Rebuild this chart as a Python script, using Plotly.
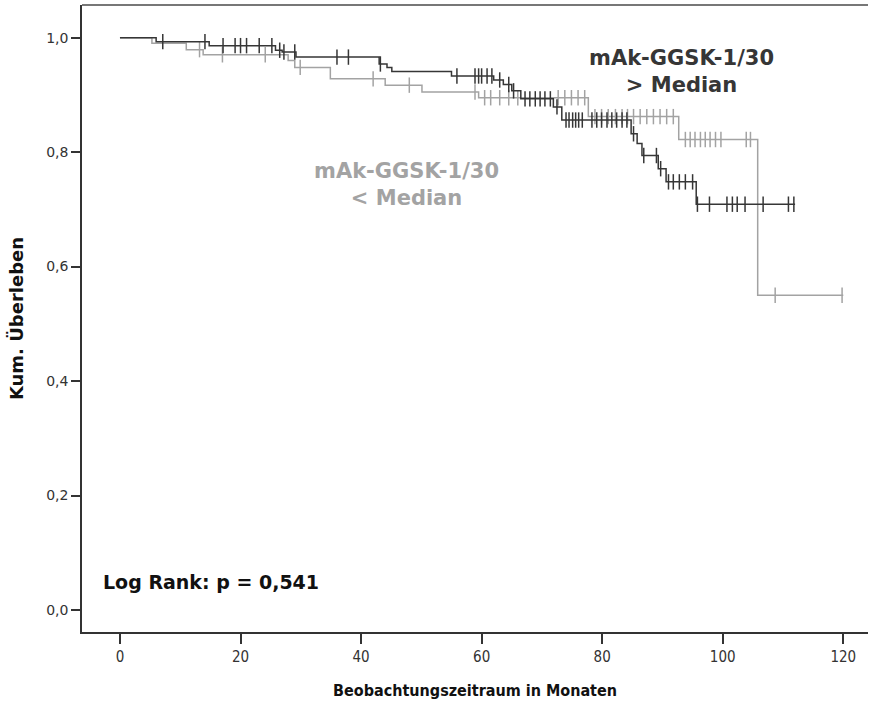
import numpy as np
import plotly.graph_objects as go

# Kaplan-Meier step data: event times (months) and survival after each event
high_event_t = [0, 6.0, 14.8, 25.8, 26.9, 29.2, 43.0, 44.3, 45.1, 55.0, 62.0, 63.6, 65.0,
                66.5, 71.9, 73.3, 84.8, 85.8, 86.6, 89.3, 90.6, 95.6]
high_event_s = [1.0, 0.993, 0.986, 0.978, 0.975, 0.966, 0.954, 0.948, 0.941, 0.933, 0.926,
                0.918, 0.907, 0.893, 0.879, 0.856, 0.832, 0.815, 0.794, 0.771, 0.748, 0.709]
high_censor_t = [7.1, 14.1, 17.1, 19.1, 20.0, 21.0, 23.1, 25.2, 26.5, 27.2, 29.0, 36.0, 37.9,
                 43.2, 55.9, 58.9, 59.5, 60.0, 60.9, 61.7, 63.0, 64.5, 65.3, 67.2, 68.0, 68.9,
                 69.7, 70.5, 71.4, 72.5, 74.0, 74.5, 75.1, 75.6, 76.1, 76.7, 78.3, 79.1, 79.9,
                 80.8, 81.6, 82.4, 83.3, 84.1, 85.2, 86.9, 89.0, 89.7, 91.0, 91.8, 92.8, 93.8,
                 95.0, 95.8, 97.8, 100.7, 101.6, 102.4, 103.7, 106.7, 110.9, 111.8]
high_end = 112.0

low_event_t = [0, 5.3, 11.0, 13.8, 27.9, 29.0, 34.9, 44.0, 50.1, 59.5, 77.7, 92.7, 105.8]
low_event_s = [1.0, 0.990, 0.979, 0.970, 0.960, 0.948, 0.928, 0.917, 0.905, 0.895, 0.862,
               0.822, 0.550]
low_censor_t = [13.2, 17.0, 24.1, 29.9, 42.0, 48.0, 58.9, 60.5, 61.5, 63.0, 64.5, 66.0, 72.7,
                73.8, 74.9, 76.0, 77.1, 78.8, 79.9, 81.0, 82.2, 83.3, 84.2, 85.2, 86.3, 87.4,
                88.5, 89.6, 90.7, 91.8, 93.8, 94.6, 95.4, 96.3, 97.1, 97.9, 98.8, 99.7, 103.9,
                104.6, 108.7, 119.8]
low_end = 120.0

x_ticks = [0, 20, 40, 60, 80, 100, 120]
y_ticks = [0.0, 0.2, 0.4, 0.6, 0.8, 1.0]

DARK = "#363636"
GREY = "#a3a3a3"


def step_xy(ts, ss, end):
    xs = list(ts) + [end]
    ys = list(ss) + [ss[-1]]
    return xs, ys


def surv_at(ts, ss, t):
    idx = np.searchsorted(np.asarray(ts), t, side="right") - 1
    return ss[max(idx, 0)]


fig = go.Figure()

for ts, ss, end, cens, col in [
    (low_event_t, low_event_s, low_end, low_censor_t, GREY),
    (high_event_t, high_event_s, high_end, high_censor_t, DARK),
]:
    xs, ys = step_xy(ts, ss, end)
    fig.add_trace(go.Scatter(x=xs, y=ys, mode="lines", line=dict(color=col, width=1.5, shape="hv"),
                             showlegend=False, hoverinfo="skip"))
    fig.add_trace(go.Scatter(x=cens, y=[surv_at(ts, ss, t) for t in cens], mode="markers",
                             marker=dict(symbol="line-ns", size=11,
                                         line=dict(color=col, width=1.5)),
                             showlegend=False, hoverinfo="skip"))

font_narrow = "DejaVu Sans Condensed, Liberation Sans, Arial, sans-serif"
font_wide = "DejaVu Sans, Liberation Sans, Arial, sans-serif"

fig.update_layout(
    width=870, height=708,
    margin=dict(l=82, r=2, t=5, b=76),
    paper_bgcolor="white", plot_bgcolor="white",
    separators=",.",
    xaxis=dict(range=[-6.3, 124.1], tickvals=x_ticks, ticks="outside", ticklen=10,
               tickwidth=1.5, tickcolor="#333", showline=True, linecolor="#333", linewidth=1.5,
               showgrid=False, zeroline=False,
               tickfont=dict(family=font_narrow, size=15, color="#333"),
               title=dict(text="<b>Beobachtungszeitraum in Monaten</b>", standoff=20,
                          font=dict(family=font_narrow, size=16, color="#111"))),
    yaxis=dict(range=[-0.0384, 1.057], tickvals=y_ticks, tickformat=".1f", ticks="outside",
               ticklen=9, tickwidth=1.5, tickcolor="#333", showline=True, linecolor="#333",
               linewidth=1.5, showgrid=False, zeroline=False,
               tickfont=dict(family=font_wide, size=14, color="#333"),
               title=dict(text="<b>Kum. Überleben</b>", standoff=18,
                          font=dict(family=font_wide, size=18, color="#111"))),
    shapes=[dict(type="line", xref="paper", yref="paper", x0=0, x1=1, y0=1, y1=1,
                 line=dict(color="#777", width=2))],
    annotations=[
        dict(x=93.2, y=0.94, xref="x", yref="y", text="<b>mAk-GGSK-1/30<br>> Median</b>",
             showarrow=False, font=dict(family=font_wide, size=21, color=DARK),
             align="center", yanchor="middle"),
        dict(x=47.6, y=0.743, xref="x", yref="y", text="<b>mAk-GGSK-1/30<br>< Median</b>",
             showarrow=False, font=dict(family=font_wide, size=21, color=GREY), align="center",
             yanchor="middle"),
        dict(x=-3.2, y=0.049, xref="x", yref="y", text="<b>Log Rank: p = 0,541</b>",
             showarrow=False, xanchor="left", font=dict(family=font_wide, size=19, color="#111")),
    ],
)

fig.write_html("out.html")
